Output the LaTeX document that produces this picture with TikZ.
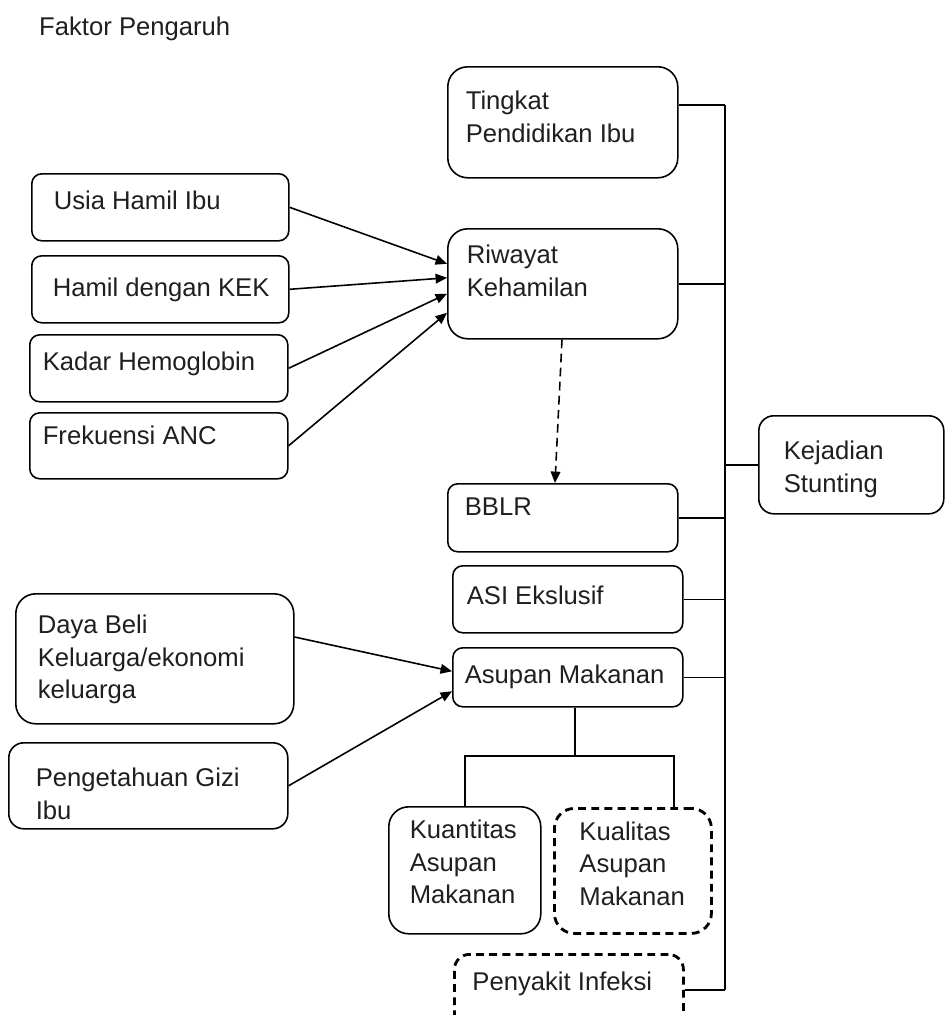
\documentclass[tikz,border=0pt]{standalone}
\usepackage{fontspec}
\setmainfont{Liberation Sans}
\usetikzlibrary{calc,arrows.meta}
\newdimen\sat \sat=0.02cm
% isi kotak: lebar, tinggi, geser kiri, geser atas, teks
\newcommand{\isi}[5]{\parbox[b][#2\sat][t]{#1\sat}{\raggedright\leftskip=#3\sat\vspace*{#4\sat}#5}}

\begin{document}
\begin{tikzpicture}[x=0.02cm, y=-0.02cm,
        every node/.style={font=\fontsize{14.6}{18.6}\selectfont, text=black!88},
        kotak/.style={draw, line width=0.9pt, rounded corners=#1, anchor=north west, inner sep=0pt},
        kotak/.default=0.2cm,
        putus/.style={kotak=#1, line width=1.6pt, dash pattern=on 4.5pt off 3pt},
        panah/.style={-{Triangle[length=6.5pt,width=5.5pt]}, line width=0.9pt},
        garis/.style={line width=0.9pt},
      ]
      \clip (0,0) rectangle (945,1015);
      \node[anchor=base west] (judul) at (33,35) {Faktor Pengaruh};

      % kolom tengah
      \node[kotak=0.4cm] (tingkat) at (447,66)  {\isi{230}{111}{18}{24}{Tingkat\\Pendidikan Ibu}};
      \node[kotak=0.4cm] (riwayat) at (447,228) {\isi{230}{110}{19}{16}{Riwayat\\Kehamilan}};
      \node[kotak] (bblr)    at (447,483) {\isi{230}{68}{17}{14}{BBLR}};
      \node[kotak] (asi)     at (452,565) {\isi{230}{67}{14}{20}{ASI Ekslusif}};
      \node[kotak] (asupan)  at (452,647) {\isi{230}{59}{12}{17}{Asupan Makanan}};
      \node[kotak=0.4cm] (kuantitas) at (388,806) {\isi{152}{127}{21}{13}{Kuantitas\\Asupan\\Makanan}};
      \node[putus=0.4cm] (kualitas)  at (553,807) {\isi{157}{125}{25}{13}{Kualitas\\Asupan\\Makanan}};
      \node[putus=0.3cm] (penyakit)  at (453,953) {\isi{229}{80}{18}{17}{Penyakit Infeksi}};

      % kolom kiri
      \node[kotak] (usia)  at (31,173) {\isi{257}{67}{22}{17}{Usia Hamil Ibu}};
      \node[kotak] (kek)   at (31,255) {\isi{257}{67}{21}{22}{Hamil dengan KEK}};
      \node[kotak] (kadar) at (29,334) {\isi{258}{67}{13}{17}{Kadar Hemoglobin}};
      \node[kotak] (frek)  at (29,412) {\isi{258}{66}{13}{13}{Frekuensi ANC}};
      \node[kotak=0.4cm] (daya)   at (15,593) {\isi{278}{130}{22}{21}{Daya Beli\\Keluarga/ekonomi\\keluarga}};
      \node[kotak=0.3cm] (penget) at (8,742)  {\isi{279}{86}{27}{25}{Pengetahuan Gizi\\Ibu}};

      % kanan
      \node[kotak=0.3cm] (kejadian) at (758,415) {\isi{185}{98}{25}{25}{Kejadian\\Stunting}};

      % panah ke riwayat kehamilan
      \draw[panah] (usia.east)  -- ($(riwayat.west)+(0,-20)$);
      \draw[panah] (kek.east)   -- ($(riwayat.west)+(0,-6)$);
      \draw[panah] (kadar.east) -- ($(riwayat.west)+(0,10)$);
      \draw[panah] (frek.east)  -- ($(riwayat.west)+(0,29)$);
      \draw[panah, dash pattern=on 5pt off 3pt] ($(riwayat.south west)+(115,0)$) -- ($(bblr.north west)+(108,0)$);

      % panah ke asupan makanan
      \draw[panah] ($(daya.north east)+(0,44)$) -- ($(asupan.west)+(0,-6)$);
      \draw[panah] (penget.east) -- ($(asupan.west)+(0,14)$);

      % cabang asupan
      \coordinate (simpang) at (575,756);
      \draw[garis] (asupan.south -| simpang) -- (simpang);
      \draw[garis] (kuantitas.north) |- (simpang) -| ($(kualitas.north west)+(121,0)$);

      % garis kumpul
      \coordinate (busatas) at (725,105);
      \coordinate (busbawah) at (725,990);
      \draw[garis] (busatas) -- (busbawah);
      \draw[garis] ($(tingkat.north east)+(0,39)$) -- (busatas);
      \draw[garis] (riwayat.east) -- (riwayat.east -| busatas);
      \draw[garis] (bblr.east) -- (bblr.east -| busatas);
      \draw[garis] (asi.east) -- (asi.east -| busatas);
      \draw[garis] (asupan.east) -- (asupan.east -| busatas);
      \draw[garis] (penyakit.east |- busbawah) -- (busbawah);
      \draw[garis] (kejadian.west -| busatas) -- (kejadian.west);
    \end{tikzpicture}
\end{document}
